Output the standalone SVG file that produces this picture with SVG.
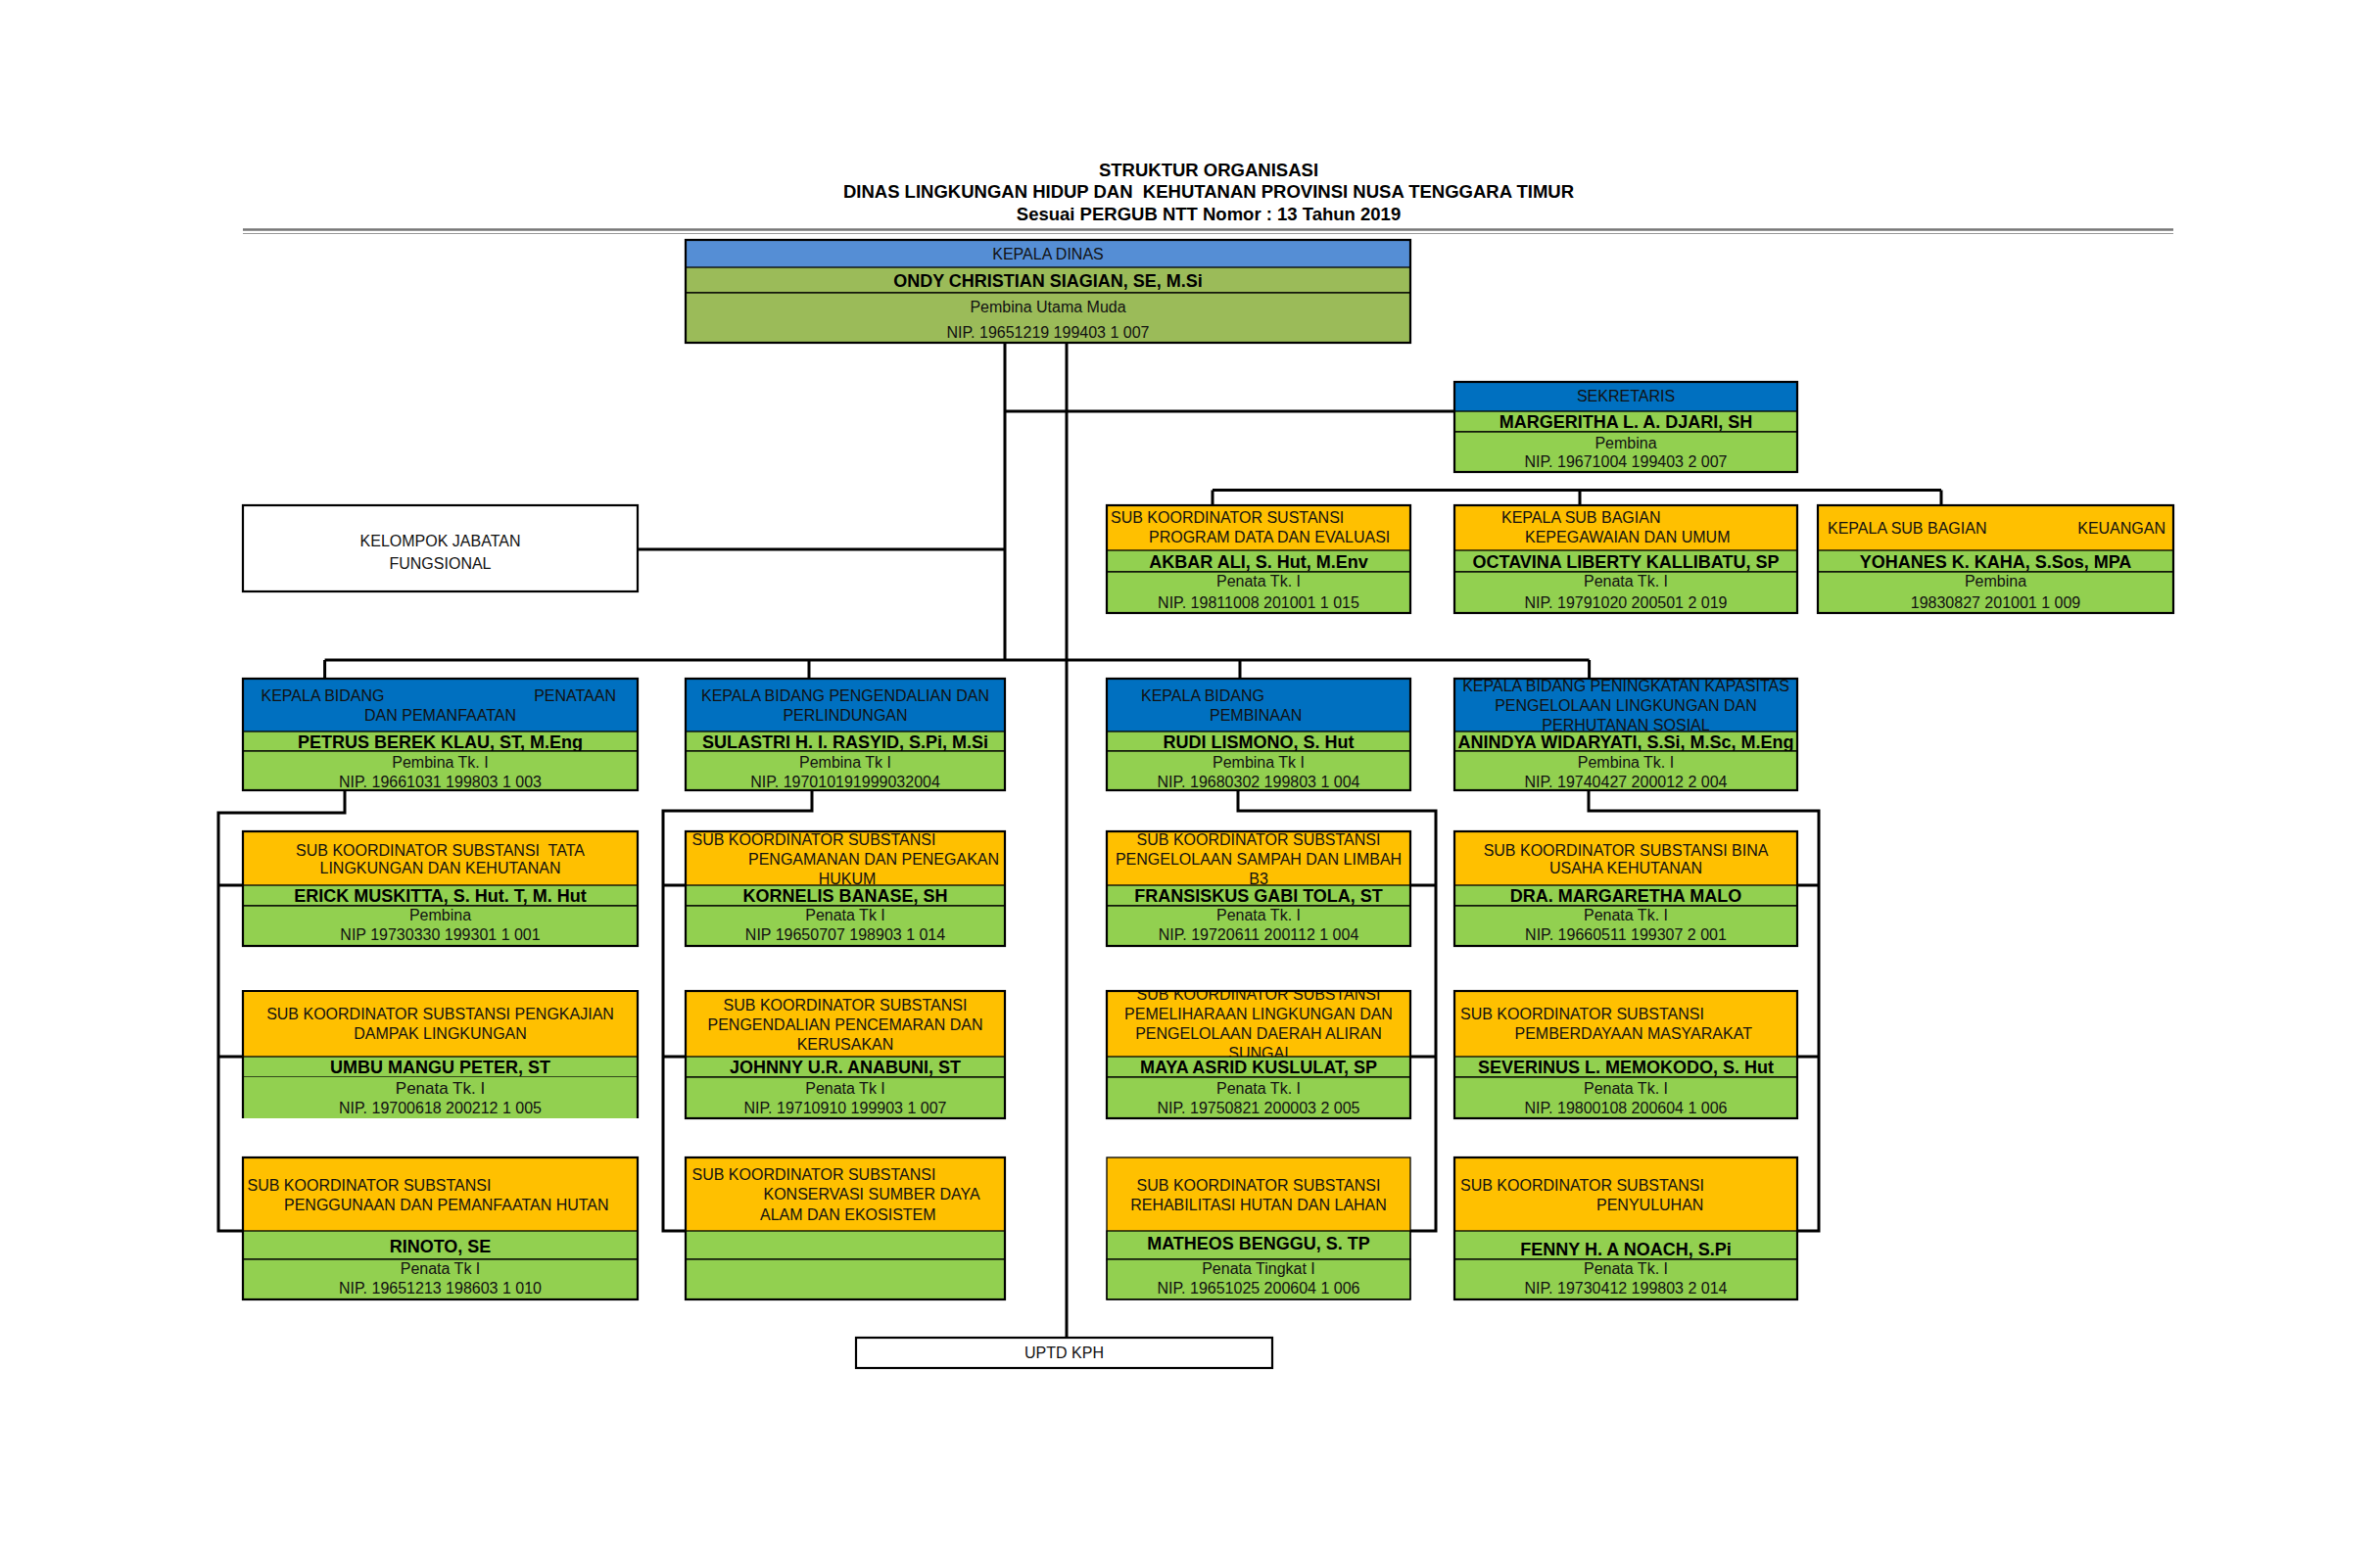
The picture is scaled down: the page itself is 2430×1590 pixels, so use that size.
<svg xmlns="http://www.w3.org/2000/svg" width="2430" height="1590" viewBox="0 0 2430 1590">
<style>
.t{font-family:"Liberation Sans",Arial,sans-serif;font-size:16px;fill:#111}
.c{text-anchor:middle}
.s{text-anchor:start}
.e{text-anchor:end}
.n{font-weight:bold;font-size:18px;fill:#000}
.ti{font-family:"Liberation Sans",Arial,sans-serif;font-weight:bold;font-size:18.5px;text-anchor:middle;fill:#000}
.lb{fill:#558ED5}
.bl{fill:#0070C0}
.or{fill:#FFC000}
.ol{fill:#9BBB59;stroke:#000;stroke-width:1.3}
.gr{fill:#92D050;stroke:#000;stroke-width:1.3}
.o{fill:none;stroke:#000;stroke-width:2.2}
.w{fill:#fff;stroke:#000;stroke-width:2.2}
.cn{fill:none;stroke:#000;stroke-width:3}
</style>
<defs>
<clipPath id="clipMaya"><rect x="1130" y="1012" width="310" height="67"/></clipPath>
</defs>
<rect width="2430" height="1590" fill="#fff"/>

<g id="title">
<text class="ti" x="1234" y="180">STRUKTUR ORGANISASI</text>
<text class="ti" x="1234" y="202" xml:space="preserve">DINAS LINGKUNGAN HIDUP DAN  KEHUTANAN PROVINSI NUSA TENGGARA TIMUR</text>
<text class="ti" x="1234" y="225">Sesuai PERGUB NTT Nomor : 13 Tahun 2019</text>
<line x1="248" y1="234.5" x2="2219" y2="234.5" stroke="#777" stroke-width="2.5"/>
<line x1="248" y1="238.5" x2="2219" y2="238.5" stroke="#999" stroke-width="1"/>
</g>

<g id="connectors">
<path class="cn" d="M1026 350V674M1089 350V1366M1026 420H1485M1238 500.5H1982M1238 500.5V516M1613 500.5V516M1982 500.5V516M651 561H1026M331.6 674H1622.6M331.6 674V693M826 674V693M1266 674V693M1622.6 674V693"/>
<path class="cn" d="M352 807V830H223V1257H248M223 904H248M223 1079H248"/>
<path class="cn" d="M829 807V828H677V1257H700M677 904H700M677 1079H700"/>
<path class="cn" d="M1264 807V828H1466V1257H1440M1440 904H1466M1440 1079H1466"/>
<path class="cn" d="M1622 807V828H1857V1257H1835M1835 904H1857M1835 1079H1857"/>
</g>

<g id="kepala-dinas">
<rect class="lb" x="700" y="245" width="740" height="28"/>
<text class="t c" x="1070" y="265">KEPALA DINAS</text>
<rect class="ol" x="700" y="273" width="740" height="26"/>
<text class="t c n" x="1070" y="292.5">ONDY CHRISTIAN SIAGIAN, SE, M.Si</text>
<rect class="ol" x="700" y="299" width="740" height="51"/>
<text class="t c" x="1070" y="318.5">Pembina Utama Muda</text>
<text class="t c" x="1070" y="345">NIP. 19651219 199403 1 007</text>
<rect class="o" x="700" y="245" width="740" height="105"/>
</g>

<g id="sekretaris">
<rect class="bl" x="1485" y="390" width="350" height="30"/>
<text class="t c" x="1660" y="410">SEKRETARIS</text>
<rect class="gr" x="1485" y="420" width="350" height="21"/>
<text class="t c n" x="1660" y="437">MARGERITHA L. A. DJARI, SH</text>
<rect class="gr" x="1485" y="441" width="350" height="41"/>
<text class="t c" x="1660" y="458">Pembina</text>
<text class="t c" x="1660" y="476.5">NIP. 19671004 199403 2 007</text>
<rect class="o" x="1485" y="390" width="350" height="92"/>
</g>

<g id="akbar">
<rect class="or" x="1130" y="516" width="310" height="46"/>
<text class="t s" x="1134" y="534">SUB KOORDINATOR SUSTANSI</text>
<text class="t s" x="1173" y="554">PROGRAM DATA DAN EVALUASI</text>
<rect class="gr" x="1130" y="562" width="310" height="22"/>
<text class="t c n" x="1285" y="580">AKBAR ALI, S. Hut, M.Env</text>
<rect class="gr" x="1130" y="584" width="310" height="42"/>
<text class="t c" x="1285" y="599">Penata Tk. I</text>
<text class="t c" x="1285" y="620.5">NIP. 19811008 201001 1 015</text>
<rect class="o" x="1130" y="516" width="310" height="110"/>
</g>

<g id="octavina">
<rect class="or" x="1485" y="516" width="350" height="46"/>
<text class="t s" x="1533" y="534">KEPALA SUB BAGIAN</text>
<text class="t s" x="1557" y="554">KEPEGAWAIAN DAN UMUM</text>
<rect class="gr" x="1485" y="562" width="350" height="22"/>
<text class="t c n" x="1660" y="580">OCTAVINA LIBERTY KALLIBATU, SP</text>
<rect class="gr" x="1485" y="584" width="350" height="42"/>
<text class="t c" x="1660" y="599">Penata Tk. I</text>
<text class="t c" x="1660" y="620.5">NIP. 19791020 200501 2 019</text>
<rect class="o" x="1485" y="516" width="350" height="110"/>
</g>

<g id="yohanes">
<rect class="or" x="1856" y="516" width="363" height="46"/>
<text class="t s" x="1866" y="544.5">KEPALA SUB BAGIAN</text>
<text class="t e" x="2211" y="544.5">KEUANGAN</text>
<rect class="gr" x="1856" y="562" width="363" height="22"/>
<text class="t c n" x="2037.5" y="580">YOHANES K. KAHA, S.Sos, MPA</text>
<rect class="gr" x="1856" y="584" width="363" height="42"/>
<text class="t c" x="2037.5" y="599">Pembina</text>
<text class="t c" x="2037.5" y="620.5">19830827 201001 1 009</text>
<rect class="o" x="1856" y="516" width="363" height="110"/>
</g>

<g id="kelompok">
<rect class="w" x="248" y="516" width="403" height="88"/>
<text class="t c" x="449.5" y="557.5">KELOMPOK JABATAN</text>
<text class="t c" x="449.5" y="580.5">FUNGSIONAL</text>
</g>

<g id="petrus">
<rect class="bl" x="248" y="693" width="403" height="54"/>
<text class="t s" x="266.5" y="715.5">KEPALA BIDANG</text>
<text class="t e" x="629" y="715.5">PENATAAN</text>
<text class="t c" x="449.5" y="735.5">DAN PEMANFAATAN</text>
<rect class="gr" x="248" y="747" width="403" height="20"/>
<text class="t c n" x="449.5" y="763.5">PETRUS BEREK KLAU, ST, M.Eng</text>
<rect class="gr" x="248" y="767" width="403" height="40"/>
<text class="t c" x="449.5" y="783.5">Pembina Tk. I</text>
<text class="t c" x="449.5" y="803.5">NIP. 19661031 199803 1 003</text>
<rect class="o" x="248" y="693" width="403" height="114"/>
</g>

<g id="sulastri">
<rect class="bl" x="700" y="693" width="326" height="54"/>
<text class="t c" x="863" y="715.5">KEPALA BIDANG PENGENDALIAN DAN</text>
<text class="t c" x="863" y="735.5">PERLINDUNGAN</text>
<rect class="gr" x="700" y="747" width="326" height="20"/>
<text class="t c n" x="863" y="763.5">SULASTRI H. I. RASYID, S.Pi, M.Si</text>
<rect class="gr" x="700" y="767" width="326" height="40"/>
<text class="t c" x="863" y="783.5">Pembina Tk I</text>
<text class="t c" x="863" y="803.5">NIP. 197010191999032004</text>
<rect class="o" x="700" y="693" width="326" height="114"/>
</g>

<g id="rudi">
<rect class="bl" x="1130" y="693" width="310" height="54"/>
<text class="t s" x="1165" y="715.5">KEPALA BIDANG</text>
<text class="t s" x="1235" y="735.5">PEMBINAAN</text>
<rect class="gr" x="1130" y="747" width="310" height="20"/>
<text class="t c n" x="1285" y="763.5">RUDI LISMONO, S. Hut</text>
<rect class="gr" x="1130" y="767" width="310" height="40"/>
<text class="t c" x="1285" y="783.5">Pembina Tk I</text>
<text class="t c" x="1285" y="803.5">NIP. 19680302 199803 1 004</text>
<rect class="o" x="1130" y="693" width="310" height="114"/>
</g>

<g id="anindya">
<rect class="bl" x="1485" y="693" width="350" height="54"/>
<text class="t c" x="1660" y="706">KEPALA BIDANG PENINGKATAN KAPASITAS</text>
<text class="t c" x="1660" y="726">PENGELOLAAN LINGKUNGAN DAN</text>
<text class="t c" x="1660" y="746">PERHUTANAN SOSIAL</text>
<rect class="gr" x="1485" y="747" width="350" height="20"/>
<text class="t c n" x="1660" y="763.5">ANINDYA WIDARYATI, S.Si, M.Sc, M.Eng</text>
<rect class="gr" x="1485" y="767" width="350" height="40"/>
<text class="t c" x="1660" y="783.5">Pembina Tk. I</text>
<text class="t c" x="1660" y="803.5">NIP. 19740427 200012 2 004</text>
<rect class="o" x="1485" y="693" width="350" height="114"/>
</g>

<g id="erick">
<rect class="or" x="248" y="849" width="403" height="55"/>
<text class="t c" x="449.5" y="873.5" xml:space="preserve">SUB KOORDINATOR SUBSTANSI  TATA</text>
<text class="t c" x="449.5" y="892">LINGKUNGAN DAN KEHUTANAN</text>
<rect class="gr" x="248" y="904" width="403" height="21"/>
<text class="t c n" x="449.5" y="921">ERICK MUSKITTA, S. Hut. T, M. Hut</text>
<rect class="gr" x="248" y="925" width="403" height="41"/>
<text class="t c" x="449.5" y="940">Pembina</text>
<text class="t c" x="449.5" y="960">NIP 19730330 199301 1 001</text>
<rect class="o" x="248" y="849" width="403" height="117"/>
</g>

<g id="kornelis">
<rect class="or" x="700" y="849" width="326" height="55"/>
<text class="t s" x="706.5" y="862.5">SUB KOORDINATOR SUBSTANSI</text>
<text class="t s" x="764" y="882.5">PENGAMANAN DAN PENEGAKAN</text>
<text class="t c" x="865" y="902.5">HUKUM</text>
<rect class="gr" x="700" y="904" width="326" height="21"/>
<text class="t c n" x="863" y="921">KORNELIS BANASE, SH</text>
<rect class="gr" x="700" y="925" width="326" height="41"/>
<text class="t c" x="863" y="940">Penata Tk I</text>
<text class="t c" x="863" y="960">NIP 19650707 198903 1 014</text>
<rect class="o" x="700" y="849" width="326" height="117"/>
</g>

<g id="fransiskus">
<rect class="or" x="1130" y="849" width="310" height="55"/>
<text class="t c" x="1285" y="862.5">SUB KOORDINATOR SUBSTANSI</text>
<text class="t c" x="1285" y="882.5">PENGELOLAAN SAMPAH DAN LIMBAH</text>
<text class="t c" x="1285" y="902.5">B3</text>
<rect class="gr" x="1130" y="904" width="310" height="21"/>
<text class="t c n" x="1285" y="921">FRANSISKUS GABI TOLA, ST</text>
<rect class="gr" x="1130" y="925" width="310" height="41"/>
<text class="t c" x="1285" y="940">Penata Tk. I</text>
<text class="t c" x="1285" y="960">NIP. 19720611 200112 1 004</text>
<rect class="o" x="1130" y="849" width="310" height="117"/>
</g>

<g id="margaretha">
<rect class="or" x="1485" y="849" width="350" height="55"/>
<text class="t c" x="1660" y="873.5">SUB KOORDINATOR SUBSTANSI BINA</text>
<text class="t c" x="1660" y="892">USAHA KEHUTANAN</text>
<rect class="gr" x="1485" y="904" width="350" height="21"/>
<text class="t c n" x="1660" y="921">DRA. MARGARETHA MALO</text>
<rect class="gr" x="1485" y="925" width="350" height="41"/>
<text class="t c" x="1660" y="940">Penata Tk. I</text>
<text class="t c" x="1660" y="960">NIP. 19660511 199307 2 001</text>
<rect class="o" x="1485" y="849" width="350" height="117"/>
</g>

<g id="umbu">
<rect class="or" x="248" y="1012" width="403" height="67"/>
<text class="t c" x="449.5" y="1040.5">SUB KOORDINATOR SUBSTANSI PENGKAJIAN</text>
<text class="t c" x="449.5" y="1060.5">DAMPAK LINGKUNGAN</text>
<rect class="gr" x="248" y="1079" width="403" height="21"/>
<text class="t c n" x="449.5" y="1096">UMBU MANGU PETER, ST</text>
<rect x="248" y="1100" width="403" height="42" fill="#92D050"/>
<text class="t c" x="449.5" y="1117" style="font-size:17px">Penata Tk. I</text>
<text class="t c" x="449.5" y="1137">NIP. 19700618 200212 1 005</text>
<path class="o" d="M248 1142V1012H651V1142"/>
</g>

<g id="johnny">
<rect class="or" x="700" y="1012" width="326" height="67"/>
<text class="t c" x="863" y="1031.5">SUB KOORDINATOR SUBSTANSI</text>
<text class="t c" x="863" y="1051.5">PENGENDALIAN PENCEMARAN DAN</text>
<text class="t c" x="863" y="1071.5">KERUSAKAN</text>
<rect class="gr" x="700" y="1079" width="326" height="21"/>
<text class="t c n" x="863" y="1096">JOHNNY U.R. ANABUNI, ST</text>
<rect class="gr" x="700" y="1100" width="326" height="42"/>
<text class="t c" x="863" y="1117">Penata Tk I</text>
<text class="t c" x="863" y="1137">NIP. 19710910 199903 1 007</text>
<rect class="o" x="700" y="1012" width="326" height="130"/>
</g>

<g id="maya">
<rect class="or" x="1130" y="1012" width="310" height="67"/>
<g clip-path="url(#clipMaya)">
<text class="t c" x="1285" y="1020.5">SUB KOORDINATOR SUBSTANSI</text>
<text class="t c" x="1285" y="1040.5">PEMELIHARAAN LINGKUNGAN DAN</text>
<text class="t c" x="1285" y="1060.5">PENGELOLAAN DAERAH ALIRAN</text>
<text class="t c" x="1285" y="1081">SUNGAI</text>
</g>
<rect class="gr" x="1130" y="1079" width="310" height="21"/>
<text class="t c n" x="1285" y="1096">MAYA ASRID KUSLULAT, SP</text>
<rect class="gr" x="1130" y="1100" width="310" height="42"/>
<text class="t c" x="1285" y="1117">Penata Tk. I</text>
<text class="t c" x="1285" y="1137">NIP. 19750821 200003 2 005</text>
<rect class="o" x="1130" y="1012" width="310" height="130"/>
</g>

<g id="severinus">
<rect class="or" x="1485" y="1012" width="350" height="67"/>
<text class="t s" x="1491" y="1040.5">SUB KOORDINATOR SUBSTANSI</text>
<text class="t s" x="1546.5" y="1060.5">PEMBERDAYAAN MASYARAKAT</text>
<rect class="gr" x="1485" y="1079" width="350" height="21"/>
<text class="t c n" x="1660" y="1096">SEVERINUS L. MEMOKODO, S. Hut</text>
<rect class="gr" x="1485" y="1100" width="350" height="42"/>
<text class="t c" x="1660" y="1117">Penata Tk. I</text>
<text class="t c" x="1660" y="1137">NIP. 19800108 200604 1 006</text>
<rect class="o" x="1485" y="1012" width="350" height="130"/>
</g>

<g id="rinoto">
<rect class="or" x="248" y="1182" width="403" height="75"/>
<text class="t s" x="252.5" y="1215.5">SUB KOORDINATOR SUBSTANSI</text>
<text class="t s" x="290" y="1235.5">PENGGUNAAN DAN PEMANFAATAN HUTAN</text>
<rect class="gr" x="248" y="1257" width="403" height="29"/>
<text class="t c n" x="449.5" y="1278.5">RINOTO, SE</text>
<rect class="gr" x="248" y="1286" width="403" height="41"/>
<text class="t c" x="449.5" y="1301">Penata Tk I</text>
<text class="t c" x="449.5" y="1321">NIP. 19651213 198603 1 010</text>
<rect class="o" x="248" y="1182" width="403" height="145"/>
</g>

<g id="konservasi">
<rect class="or" x="700" y="1182" width="326" height="75"/>
<text class="t s" x="706.5" y="1205">SUB KOORDINATOR SUBSTANSI</text>
<text class="t s" x="779.5" y="1225">KONSERVASI SUMBER DAYA</text>
<text class="t s" x="776" y="1245.5">ALAM DAN EKOSISTEM</text>
<rect class="gr" x="700" y="1257" width="326" height="29"/>
<rect class="gr" x="700" y="1286" width="326" height="41"/>
<rect class="o" x="700" y="1182" width="326" height="145"/>
</g>

<g id="matheos">
<rect class="or" x="1130" y="1182" width="310" height="75"/>
<text class="t c" x="1285" y="1215.5">SUB KOORDINATOR SUBSTANSI</text>
<text class="t c" x="1285" y="1235.5">REHABILITASI HUTAN DAN LAHAN</text>
<rect class="gr" x="1130" y="1257" width="310" height="29"/>
<text class="t c n" x="1285" y="1275.5">MATHEOS BENGGU, S. TP</text>
<rect class="gr" x="1130" y="1286" width="310" height="41"/>
<text class="t c" x="1285" y="1301">Penata Tingkat I</text>
<text class="t c" x="1285" y="1321">NIP. 19651025 200604 1 006</text>
<rect class="o" x="1130" y="1182" width="310" height="145" style="stroke-width:1.3"/>
</g>

<g id="fenny">
<rect class="or" x="1485" y="1182" width="350" height="75"/>
<text class="t s" x="1491" y="1215.5">SUB KOORDINATOR SUBSTANSI</text>
<text class="t s" x="1630" y="1235.5">PENYULUHAN</text>
<rect class="gr" x="1485" y="1257" width="350" height="29"/>
<text class="t c n" x="1660" y="1282">FENNY H. A NOACH, S.Pi</text>
<rect class="gr" x="1485" y="1286" width="350" height="41"/>
<text class="t c" x="1660" y="1301">Penata Tk. I</text>
<text class="t c" x="1660" y="1321">NIP. 19730412 199803 2 014</text>
<rect class="o" x="1485" y="1182" width="350" height="145"/>
</g>

<g id="uptd">
<rect class="w" x="874" y="1366" width="425" height="31"/>
<text class="t c" x="1086.5" y="1387">UPTD KPH</text>
</g>
</svg>
